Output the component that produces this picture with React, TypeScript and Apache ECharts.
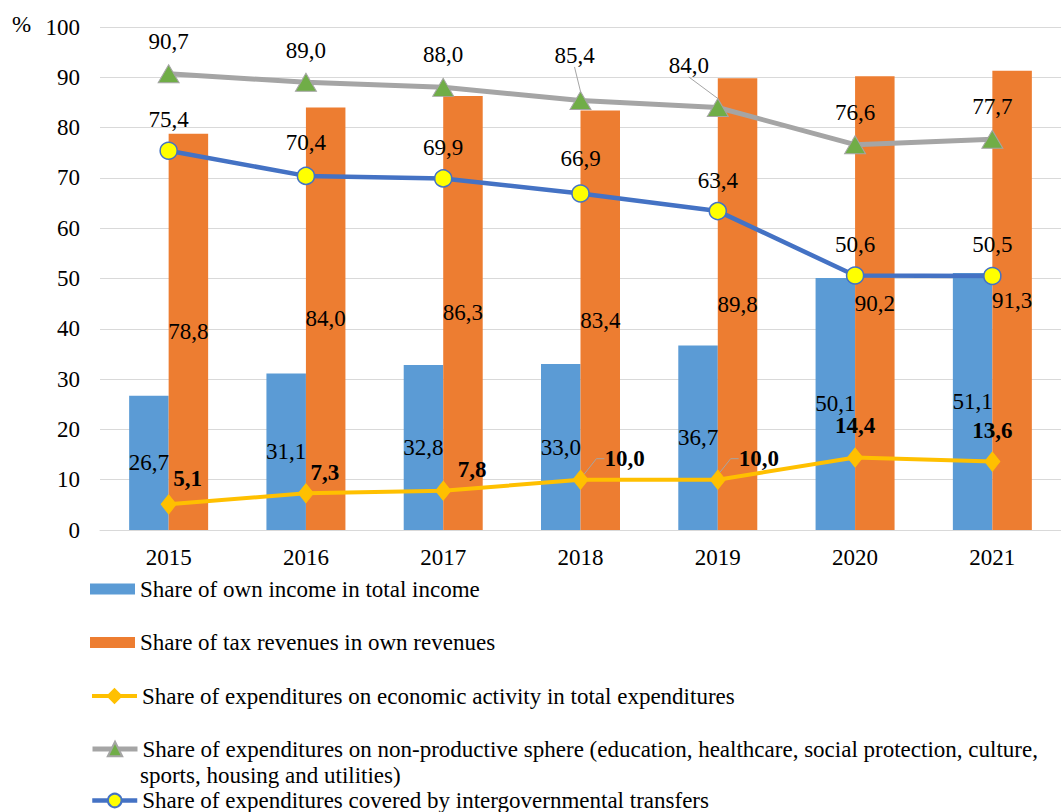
import React, { useEffect, useRef } from "react";
import * as echarts from "echarts";

const years = ["2015", "2016", "2017", "2018", "2019", "2020", "2021"];
const ownIncomeShare = [26.7, 31.1, 32.8, 33.0, 36.7, 50.1, 51.1];
const taxRevenueShare = [78.8, 84.0, 86.3, 83.4, 89.8, 90.2, 91.3];
const economicActivityShare = [5.1, 7.3, 7.8, 10.0, 10.0, 14.4, 13.6];
const nonProductiveShare = [90.7, 89.0, 88.0, 85.4, 84.0, 76.6, 77.7];
const transfersShare = [75.4, 70.4, 69.9, 66.9, 63.4, 50.6, 50.5];

const yTicks = { min: 0, max: 100, interval: 10 };

const NAME_OWN = "Share of own income in total income";
const NAME_TAX = "Share of tax revenues in own revenues";
const NAME_ECON = "Share of expenditures on economic activity in total expenditures";
const NAME_NONPROD =
  "Share of expenditures on non-productive sphere (education, healthcare, social protection, culture, sports, housing and utilities)";
const NAME_NONPROD_L1 =
  "Share of expenditures on non-productive sphere (education, healthcare, social protection, culture,";
const NAME_NONPROD_L2 = "sports, housing and utilities)";
const NAME_TRANSFERS = "Share of expenditures covered by intergovernmental transfers";

// label layout offsets (pixels, label centre relative to point)
const econLabelShift = [
  [19, -26],
  [19, -21],
  [29, -21],
  [44, -21],
  [41, -21],
  [0, -32],
  [0, -31],
];
const econLabelLine = [false, false, false, true, true, false, false];
const nonProdLabelShift = [
  [0, -32],
  [0, -32],
  [0, -33],
  [-6, -45],
  [-29, -42],
  [0, -32],
  [0, -33],
];
const nonProdLabelLine = [false, false, false, true, true, false, false];
const transfersLabelShift = [
  [0, -31],
  [0, -33],
  [0, -31],
  [0, -35],
  [0, -31],
  [0, -31],
  [0, -31],
];

const FONT = "Liberation Serif";
const FS = 23;

const fmt = (v: number) => v.toFixed(1).replace(".", ",");

export default function App() {
  const ref = useRef<HTMLDivElement>(null);

  useEffect(() => {
    document.body.style.margin = "0";
    if (!ref.current) return;
    const chart = echarts.init(ref.current, null, { renderer: "svg" });

    const labelBase = {
      show: true,
      fontFamily: FONT,
      fontSize: FS,
      color: "#000",
    };

    const legendCommon = {
      orient: "vertical" as const,
      left: 90,
      padding: 0,
      itemWidth: 45,
      textStyle: { fontFamily: FONT, fontSize: FS, color: "#000" },
      selectedMode: false,
    };

    const option: any = {
      animation: false,
      backgroundColor: "#fff",
      textStyle: { fontFamily: FONT },
      grid: { left: 100, top: 27, width: 965, height: 503, containLabel: false },
      xAxis: {
        type: "category",
        data: years,
        axisLine: { show: true, lineStyle: { color: "#d9d9d9", width: 1 } },
        axisTick: { show: false },
        axisLabel: { fontFamily: FONT, fontSize: FS, color: "#000", margin: 16 },
      },
      yAxis: {
        type: "value",
        min: yTicks.min,
        max: yTicks.max,
        interval: yTicks.interval,
        axisLine: { show: false },
        axisTick: { show: false },
        splitLine: { lineStyle: { color: "#d9d9d9", width: 1 } },
        axisLabel: { fontFamily: FONT, fontSize: FS, color: "#000", margin: 20 },
      },
      legend: [
        {
          ...legendCommon,
          top: 577.5,
          data: [NAME_OWN],
          icon: "rect",
          itemHeight: 11,
        },
        {
          ...legendCommon,
          top: 631,
          data: [NAME_TAX],
          icon: "rect",
          itemHeight: 11,
        },
        {
          ...legendCommon,
          top: 684.5,
          data: [NAME_ECON],
          itemHeight: 17,
          lineStyle: { width: 4 },
        },
        {
          ...legendCommon,
          top: 737.5,
          data: [NAME_NONPROD],
          itemHeight: 18,
          lineStyle: { width: 5 },
          formatter: () => NAME_NONPROD_L1,
        },
        {
          ...legendCommon,
          top: 789,
          data: [NAME_TRANSFERS],
          itemHeight: 17,
          lineStyle: { width: 4.5 },
        },
      ],
      graphic: [
        {
          type: "text",
          left: 12,
          top: 13,
          style: { text: "%", fontFamily: FONT, fontSize: FS, fill: "#000" },
        },
        {
          type: "text",
          left: 140,
          top: 763.5,
          style: { text: NAME_NONPROD_L2, fontFamily: FONT, fontSize: FS, fill: "#000" },
        },
      ],
      series: [
        {
          name: NAME_OWN,
          type: "bar",
          data: ownIncomeShare,
          barWidth: 39.5,
          barGap: "0%",
          itemStyle: { color: "#5b9bd5" },
          label: { ...labelBase, position: "inside", formatter: (p: any) => fmt(p.value) },
        },
        {
          name: NAME_TAX,
          type: "bar",
          data: taxRevenueShare,
          barWidth: 39.5,
          barGap: "0%",
          itemStyle: { color: "#ed7d31" },
          label: { ...labelBase, position: "inside", formatter: (p: any) => fmt(p.value) },
        },
        {
          name: NAME_ECON,
          type: "line",
          data: economicActivityShare.map((v, i) => ({
            value: v,
            labelLine: { show: econLabelLine[i] },
          })),
          symbol: "diamond",
          symbolSize: [15, 19],
          lineStyle: { color: "#ffc000", width: 4 },
          itemStyle: { color: "#ffc000", borderColor: "#ffc000", borderWidth: 1 },
          label: {
            ...labelBase,
            position: "inside",
            fontWeight: "bold",
            formatter: (p: any) => fmt(p.value),
          },
          labelLine: { show: false, lineStyle: { color: "#a5a5a5", width: 1 }, length2: 8 },
          labelLayout: (p: any) => ({
            dx: econLabelShift[p.dataIndex][0],
            dy: econLabelShift[p.dataIndex][1],
          }),
          z: 5,
        },
        {
          name: NAME_NONPROD,
          type: "line",
          data: nonProductiveShare.map((v, i) => ({
            value: v,
            labelLine: { show: nonProdLabelLine[i] },
          })),
          symbol: "triangle",
          symbolSize: [21, 18],
          lineStyle: { color: "#a5a5a5", width: 5 },
          itemStyle: { color: "#70ad47", borderColor: "#a5a5a5", borderWidth: 1 },
          label: { ...labelBase, position: "inside", formatter: (p: any) => fmt(p.value) },
          labelLine: { show: false, lineStyle: { color: "#a5a5a5", width: 1 }, length2: 0 },
          labelLayout: (p: any) => ({
            dx: nonProdLabelShift[p.dataIndex][0],
            dy: nonProdLabelShift[p.dataIndex][1],
          }),
          z: 5,
        },
        {
          name: NAME_TRANSFERS,
          type: "line",
          data: transfersShare,
          symbol: "circle",
          symbolSize: 17,
          lineStyle: { color: "#4472c4", width: 4.5 },
          itemStyle: { color: "#ffff00", borderColor: "#4472c4", borderWidth: 1.5 },
          label: { ...labelBase, position: "inside", formatter: (p: any) => fmt(p.value) },
          labelLayout: (p: any) => ({
            dx: transfersLabelShift[p.dataIndex][0],
            dy: transfersLabelShift[p.dataIndex][1],
          }),
          z: 5,
        },
      ],
    };

    chart.setOption(option);
    return () => chart.dispose();
  }, []);

  return <div ref={ref} style={{ width: 1061, height: 812 }} />;
}
